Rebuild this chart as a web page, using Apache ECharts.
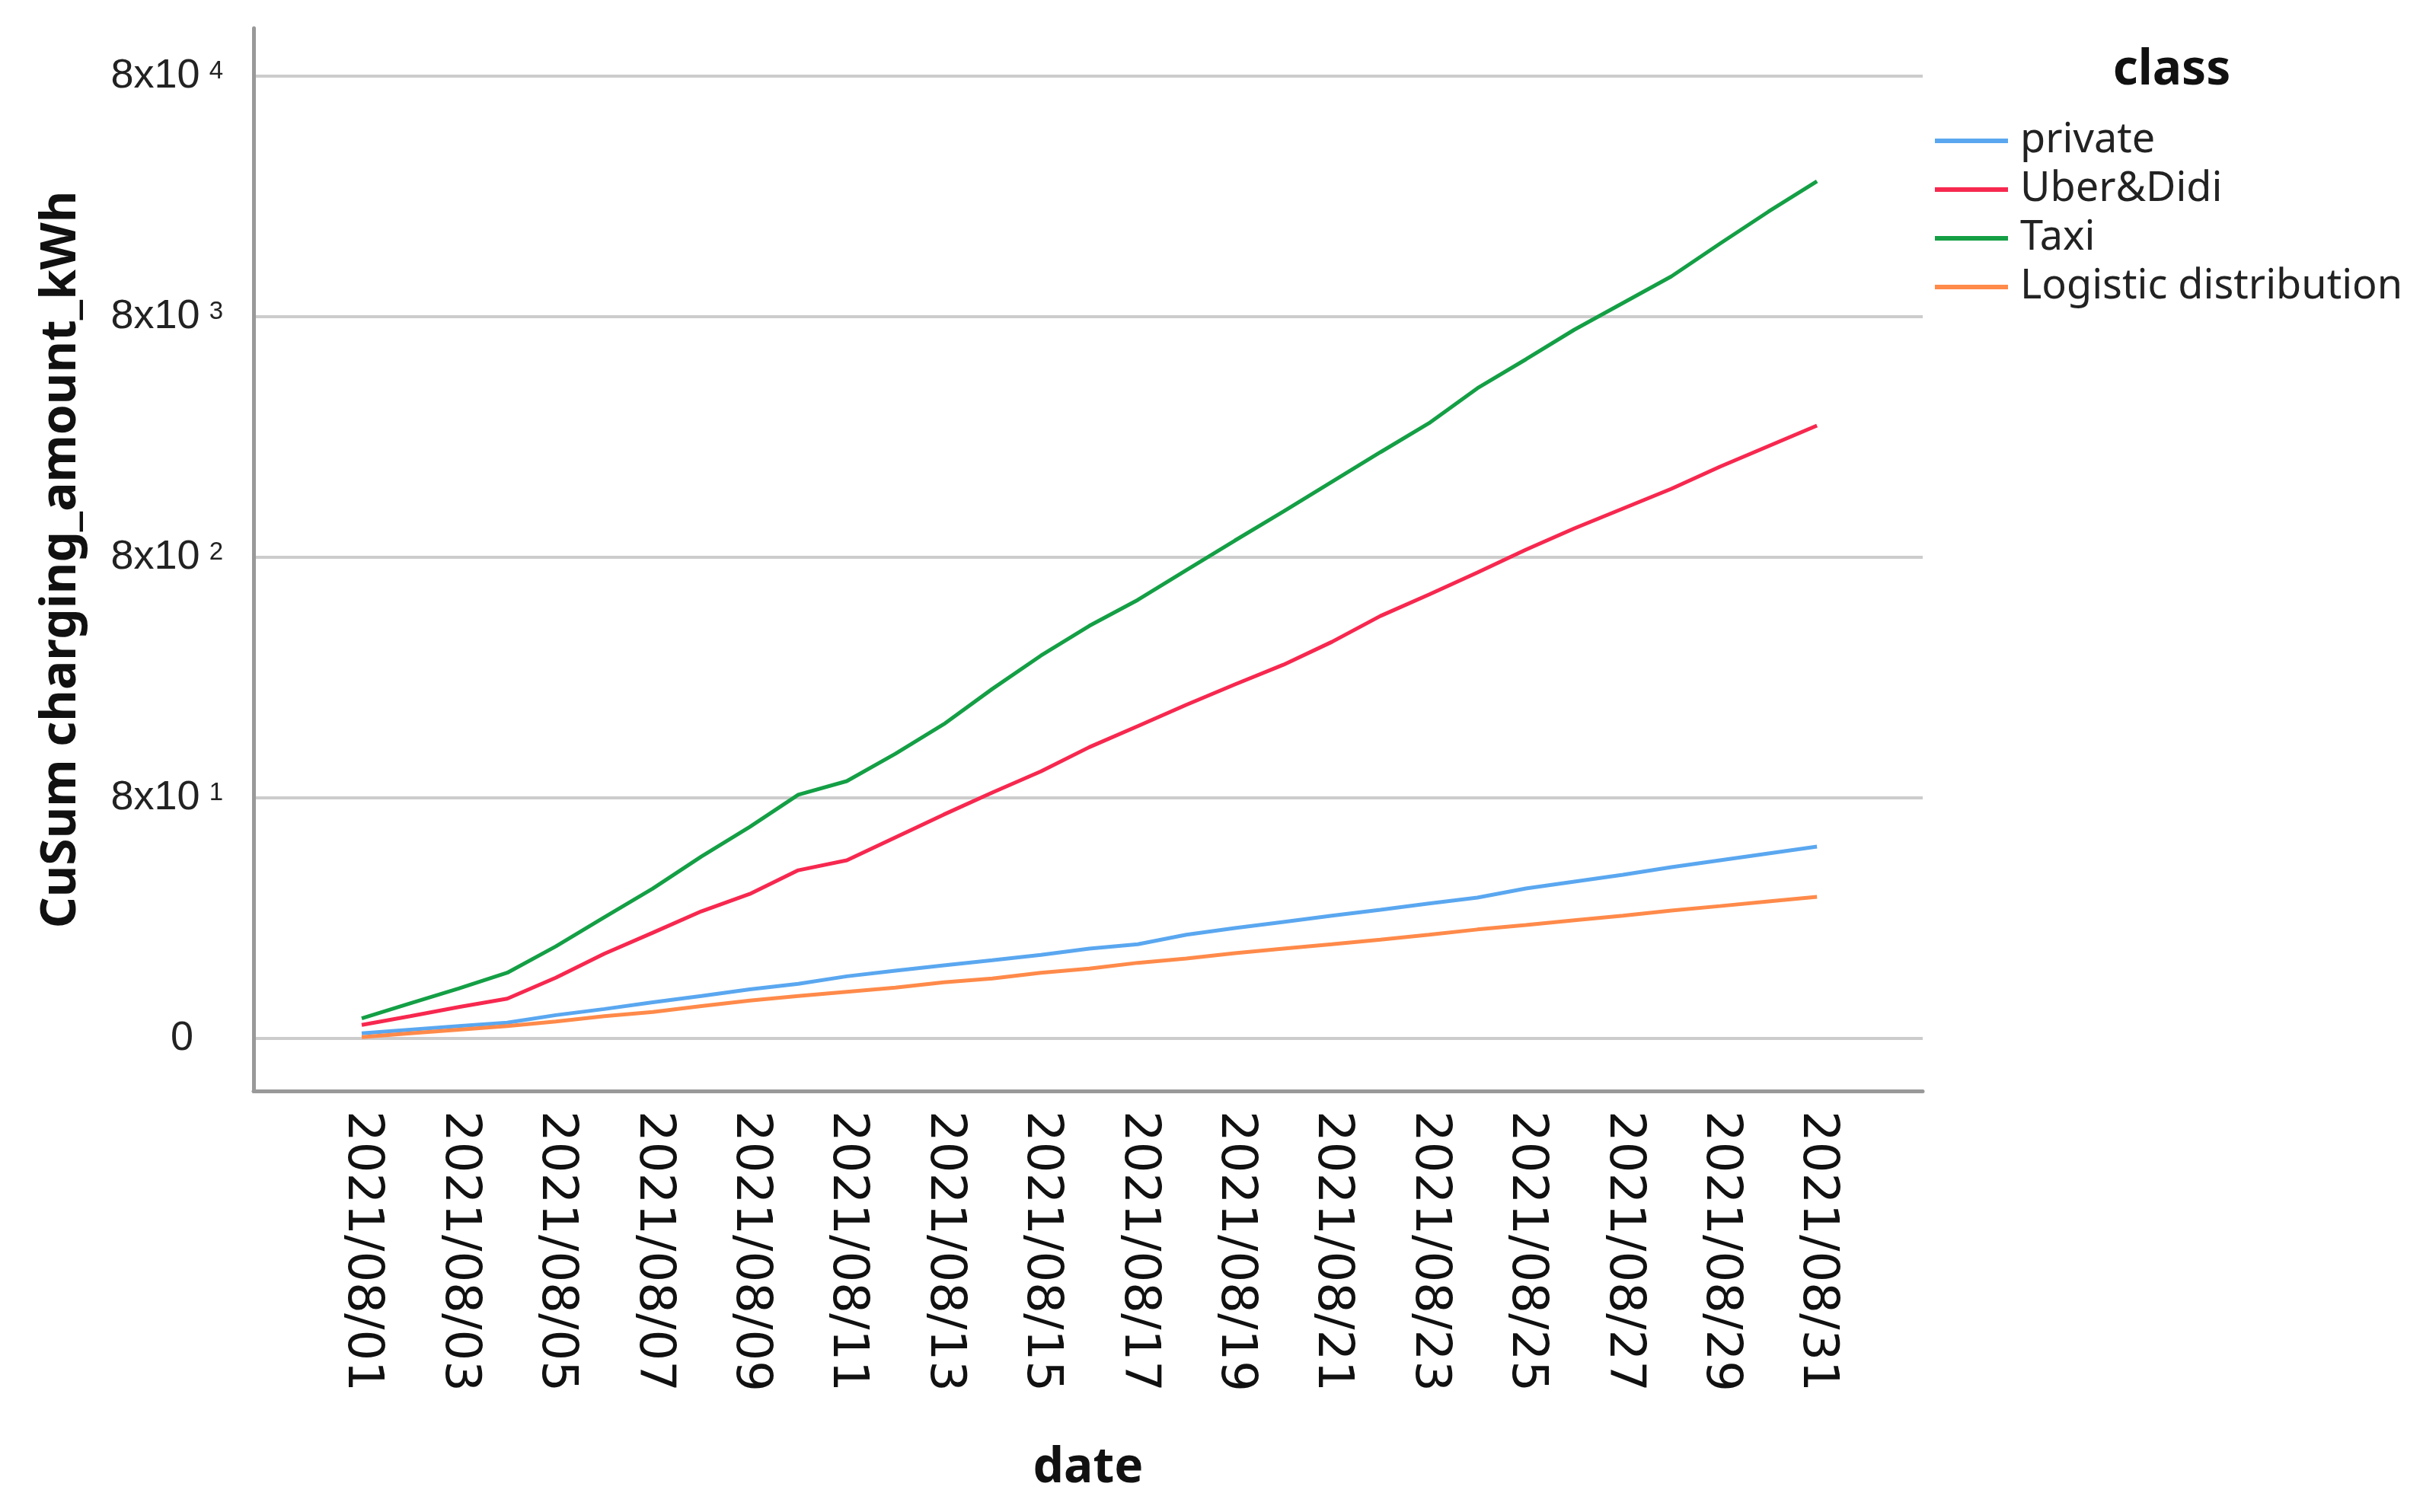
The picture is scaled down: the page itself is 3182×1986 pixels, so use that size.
<!DOCTYPE html>
<html>
<head>
<meta charset="utf-8">
<script src="https://cdn.jsdelivr.net/npm/echarts@6/dist/echarts.min.js"></script>
<style>
  html, body { margin: 0; padding: 0; background: #ffffff; }
  #chart { width: 3182px; height: 1986px; }
</style>
</head>
<body>
<div id="chart"></div>
<script>
// ---- data ----
const dates = [
  '2021/08/01','2021/08/02','2021/08/03','2021/08/04','2021/08/05','2021/08/06','2021/08/07','2021/08/08',
  '2021/08/09','2021/08/10','2021/08/11','2021/08/12','2021/08/13','2021/08/14','2021/08/15','2021/08/16',
  '2021/08/17','2021/08/18','2021/08/19','2021/08/20','2021/08/21','2021/08/22','2021/08/23','2021/08/24',
  '2021/08/25','2021/08/26','2021/08/27','2021/08/28','2021/08/29','2021/08/30','2021/08/31'
];
const seriesNames = ['private', 'Uber&Didi', 'Taxi', 'Logistic distribution'];
const privateVals = [8.4,8.7,9.0,9.3,10.0,10.6,11.3,12.0,12.8,13.5,14.5,15.3,16.1,16.9,17.8,18.9,19.7,21.6,23.0,24.4,25.9,27.4,29.1,30.8,33.6,35.9,38.3,41.2,44.0,47.0,50.2];
const uberVals = [9.1,9.9,10.8,11.7,14.3,18.0,22.0,27.0,31.9,40.0,44.0,54.8,68.2,84.2,103,130,159,195,237,286,356,456,560,692,860,1055,1275,1542,1904,2318,2822];
const taxiVals = [9.7,11.2,12.9,15.0,19.3,25.5,33.6,45.6,60.6,82.4,93.9,122,162,227,312,415,532,707,939,1239,1646,2187,2885,4034,5320,7068,9120,11770,16100,21870,29260];
const logisticVals = [8.1,8.4,8.7,9.0,9.4,9.9,10.3,10.9,11.5,12.0,12.5,13.0,13.7,14.2,15.0,15.6,16.5,17.2,18.1,18.9,19.7,20.6,21.6,22.7,23.7,24.8,25.9,27.2,28.4,29.7,31.0];
// y tick labels: gridlines at 8x10^k (bottom one labelled "0")
const yTickPos = [0, 1, 2, 3, 4];
const yTickBase = ['0', '8x10', '8x10', '8x10', '8x10'];
const yTickExp = ['', '1', '2', '3', '4'];
const xLabelIdx = [0,2,4,6,8,10,12,14,16,18,20,22,24,26,28,30];

const colors = ['#5aa7f0', '#f7284f', '#149f45', '#ff8a4a'];
const allVals = [privateVals, uberVals, taxiVals, logisticVals];

// scale: decades above 8 kWh
function pos(v) { return Math.log10(v / 8); }

const chart = echarts.init(document.getElementById('chart'), null, { renderer: 'canvas' });

const option = {
  backgroundColor: '#ffffff',
  animation: false,
  title: {
    text: 'class',
    left: 2847,
    textAlign: 'center',
    top: 56,
    textStyle: { fontFamily: 'Noto Sans', fontWeight: 'bold', fontSize: 64, color: '#111' }
  },
  legend: {
    orient: 'vertical',
    left: 2536,
    top: 148,
    icon: 'rect',
    itemWidth: 96,
    itemHeight: 6,
    itemGap: 0,
    data: seriesNames,
    textStyle: { fontFamily: 'Noto Sans', fontSize: 54, color: '#222', lineHeight: 64, padding: [0, 0, 0, 11] }
  },
  grid: { left: 333, right: 657, top: 37, bottom: 553, containLabel: false },
  xAxis: {
    type: 'value',
    min: -2.229,
    max: 32.18,
    name: 'date',
    nameLocation: 'middle',
    nameGap: 464,
    nameTextStyle: { fontFamily: 'Noto Sans', fontWeight: 'bold', fontSize: 64, color: '#111' },
    axisLine: { show: true, onZero: false, lineStyle: { color: '#999999', width: 5 } },
    axisTick: { show: false, customValues: xLabelIdx },
    splitLine: { show: false },
    axisLabel: {
      customValues: xLabelIdx,
      rotate: -90,
      margin: 26,
      fontFamily: 'DejaVu Sans',
      fontSize: 64,
      color: '#111',
      formatter: function (v) { return dates[Math.round(v)]; }
    }
  },
  yAxis: {
    type: 'value',
    min: -0.2184,
    max: 4.1994,
    name: 'CuSum charging_amount_kWh',
    nameLocation: 'middle',
    nameGap: 220,
    nameTextStyle: { fontFamily: 'Noto Sans', fontWeight: 'bold', fontSize: 64, color: '#111' },
    axisLine: { show: true, onZero: false, lineStyle: { color: '#999999', width: 5 } },
    axisTick: { show: false, customValues: yTickPos },
    splitLine: { show: true, lineStyle: { color: '#cccccc', width: 4 } },
    axisLabel: {
      customValues: yTickPos,
      margin: 40,
      formatter: function (v) {
        const i = yTickPos.indexOf(Math.round(v));
        if (i < 0) return '';
        if (yTickExp[i] === '') return '{m|' + yTickBase[i] + '}{pad|}';
        return '{m|' + yTickBase[i] + '}{s|' + yTickExp[i] + '}';
      },
      rich: {
        m: { fontFamily: 'Liberation Sans', fontSize: 54, color: '#222' },
        s: { fontFamily: 'Liberation Sans', fontSize: 33, color: '#222', padding: [0, 0, 12, 12] },
        pad: { width: 39 }
      }
    }
  },
  series: seriesNames.map(function (name, k) {
    return {
      name: name,
      type: 'line',
      symbol: 'none',
      color: colors[k],
      lineStyle: { width: 5, color: colors[k] },
      data: dates.map(function (d, i) { return [i, pos(allVals[k][i])]; })
    };
  })
};
chart.setOption(option);
</script>
</body>
</html>
